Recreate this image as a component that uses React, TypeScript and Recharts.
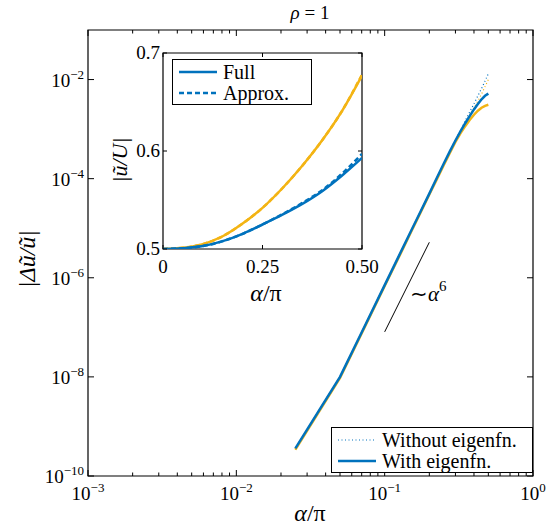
import React from 'react';
import { LineChart, Line, XAxis, YAxis, ReferenceLine, ReferenceArea } from 'recharts';

// main panel: |Δũ/ũ| against α/π (log-log)
const ALPHA = [0.025, 0.05, 0.075, 0.1, 0.125, 0.15, 0.175, 0.2, 0.225, 0.25, 0.275, 0.3, 0.325, 0.35, 0.375, 0.4, 0.425, 0.45, 0.475, 0.5];
const WITH_BLUE = [3.6e-10, 1.0e-8, 1.21e-7, 7.1e-7, 2.8e-6, 8.6e-6, 2.2e-5, 5.0e-5, 1.04e-4, 2.0e-4, 3.55e-4, 5.9e-4, 9.1e-4, 1.33e-3, 1.85e-3, 2.5e-3, 3.2e-3, 4.0e-3, 4.7e-3, 5.2e-3];
const WITH_YELLOW = [3.4e-10, 9.5e-9, 1.15e-7, 6.8e-7, 2.65e-6, 8.2e-6, 2.1e-5, 4.8e-5, 9.8e-5, 1.88e-4, 3.3e-4, 5.5e-4, 8.3e-4, 1.16e-3, 1.54e-3, 1.95e-3, 2.35e-3, 2.7e-3, 2.95e-3, 3.1e-3];
const WITHOUT_BLUE = [3.6e-10, 1.0e-8, 1.21e-7, 7.1e-7, 2.8e-6, 8.6e-6, 2.2e-5, 5.0e-5, 1.04e-4, 2.0e-4, 3.6e-4, 6.1e-4, 9.5e-4, 1.5e-3, 2.24e-3, 3.24e-3, 4.7e-3, 6.6e-3, 9.3e-3, 1.32e-2];
const WITHOUT_YELLOW = [3.4e-10, 9.5e-9, 1.15e-7, 6.8e-7, 2.65e-6, 8.2e-6, 2.1e-5, 4.8e-5, 9.8e-5, 1.88e-4, 3.35e-4, 5.7e-4, 8.7e-4, 1.38e-3, 1.95e-3, 2.7e-3, 3.7e-3, 5.1e-3, 7.2e-3, 1.0e-2];

const X_MAJOR = [0.001, 0.01, 0.1, 1];
const X_MAJOR_LABELS = ['−3', '−2', '−1', '0'];
const X_MINOR = [0.002, 0.003, 0.004, 0.005, 0.006, 0.007, 0.008, 0.009, 0.02, 0.03, 0.04, 0.05, 0.06, 0.07, 0.08, 0.09, 0.2, 0.3, 0.4, 0.5, 0.6, 0.7, 0.8, 0.9];
const Y_MAJOR = [1e-10, 1e-8, 1e-6, 1e-4, 1e-2];
const Y_MAJOR_LABELS = ['−10', '−8', '−6', '−4', '−2'];

// ~α^6 guide
const SLOPE_GUIDE = [{ x: 0.1, y: 8.1e-8 }, { x: 0.2, y: 5.2e-6 }];

// inset: |ũ/U| against α/π
const INSET_ALPHA = [0, 0.05, 0.1, 0.15, 0.2, 0.25, 0.3, 0.35, 0.4, 0.45, 0.5];
const FULL_BLUE = [0.5, 0.5008, 0.503, 0.508, 0.5155, 0.525, 0.535, 0.546, 0.559, 0.575, 0.593];
const FULL_YELLOW = [0.5, 0.5012, 0.505, 0.513, 0.526, 0.542, 0.562, 0.585, 0.611, 0.641, 0.677];
const APPROX_BLUE = [0.5, 0.5008, 0.503, 0.508, 0.5155, 0.525, 0.5355, 0.547, 0.560, 0.577, 0.597];
const APPROX_YELLOW = [0.5, 0.5012, 0.505, 0.513, 0.526, 0.542, 0.562, 0.585, 0.611, 0.641, 0.678];
const INSET_X_TICKS = [0, 0.25, 0.5];
const INSET_X_LABELS = ['0', '0.25', '0.50'];
const INSET_Y_TICKS = [0.5, 0.6, 0.7];
const INSET_Y_LABELS = ['0.5', '0.6', '0.7'];

const BLUE = '#0072BD';
const YELLOW = '#F3B414';
const FONT = '"Liberation Serif", "Times New Roman", serif';

const W = 547;
const H = 529;
// plot box: x 88..533, y 30..476 (axes take 1px)
const MAIN_M = { top: 30, right: 14, bottom: 52, left: 87 };
const PLOT_TOP = 30;
const PLOT_RIGHT = 533;
const INSET_POS = { left: 100, top: 40, width: 280, height: 270 };
// inset box: x 163..362, y 53..249
const INSET_M = { top: 13, right: 18, bottom: 60, left: 62 };
const INSET_TOP = 13;
const INSET_RIGHT = 262;

const mainRows = ALPHA.map((a, i) => ({
  a,
  withB: WITH_BLUE[i],
  withY: WITH_YELLOW[i],
  woB: WITHOUT_BLUE[i],
  woY: WITHOUT_YELLOW[i],
}));

const insetRows = INSET_ALPHA.map((a, i) => ({
  a,
  fullB: FULL_BLUE[i],
  fullY: FULL_YELLOW[i],
  apxB: APPROX_BLUE[i],
  apxY: APPROX_YELLOW[i],
}));

function MainXTick(props: any) {
  const { x, y, payload } = props;
  const idx = X_MAJOR.indexOf(payload.value);
  const len = idx >= 0 ? 6 : 3.5;
  return (
    <g>
      <line x1={x} x2={x} y1={y} y2={y - len} stroke="#000" />
      <line x1={x} x2={x} y1={PLOT_TOP} y2={PLOT_TOP + len} stroke="#000" />
      {idx >= 0 && (
        <text x={x} y={y + 24} textAnchor="middle" fontSize={19} fontFamily={FONT} fill="#000">
          10<tspan dy={-8} fontSize={13}>{X_MAJOR_LABELS[idx]}</tspan>
        </text>
      )}
    </g>
  );
}

function MainYTick(props: any) {
  const { x, y, payload } = props;
  const idx = Y_MAJOR.indexOf(payload.value);
  return (
    <g>
      <line x1={x} x2={x + 6} y1={y} y2={y} stroke="#000" />
      <line x1={PLOT_RIGHT} x2={PLOT_RIGHT - 6} y1={y} y2={y} stroke="#000" />
      <text x={x - 4} y={y + 7} textAnchor="end" fontSize={19} fontFamily={FONT} fill="#000">
        10<tspan dy={-8} fontSize={13}>{Y_MAJOR_LABELS[idx]}</tspan>
      </text>
    </g>
  );
}

function InsetXTick(props: any) {
  const { x, y, payload } = props;
  const idx = INSET_X_TICKS.indexOf(payload.value);
  return (
    <g>
      <line x1={x} x2={x} y1={y} y2={y - 4} stroke="#000" />
      <line x1={x} x2={x} y1={INSET_TOP} y2={INSET_TOP + 4} stroke="#000" />
      <text x={x} y={y + 24} textAnchor="middle" fontSize={19} fontFamily={FONT} fill="#000">
        {INSET_X_LABELS[idx]}
      </text>
    </g>
  );
}

function InsetYTick(props: any) {
  const { x, y, payload } = props;
  const idx = INSET_Y_TICKS.indexOf(payload.value);
  return (
    <g>
      <line x1={x} x2={x + 4} y1={y} y2={y} stroke="#000" />
      <line x1={INSET_RIGHT} x2={INSET_RIGHT - 4} y1={y} y2={y} stroke="#000" />
      <text x={x - 3} y={y + 6} textAnchor="end" fontSize={19} fontFamily={FONT} fill="#000">
        {INSET_Y_LABELS[idx]}
      </text>
    </g>
  );
}

type LegendRow = { label: string; dash?: string; width: number };

function LegendBox({ left, top, width, rows }: { left: number; top: number; width: number; rows: LegendRow[] }) {
  return (
    <div
      style={{
        position: 'absolute',
        left,
        top,
        width,
        border: '1px solid #000',
        background: '#fff',
        padding: '1px 0',
        fontFamily: FONT,
        fontSize: 20,
        boxSizing: 'border-box',
      }}
    >
      {rows.map((r) => (
        <div key={r.label} style={{ display: 'flex', alignItems: 'center', height: 21, lineHeight: '20px' }}>
          <svg width={50} height={21} style={{ flex: 'none' }}>
            <line x1={6} x2={44} y1={11} y2={11} stroke={BLUE} strokeWidth={r.width} strokeDasharray={r.dash} />
          </svg>
          <span style={{ whiteSpace: 'nowrap' }}>{r.label}</span>
        </div>
      ))}
    </div>
  );
}

const axisCommon = {
  type: 'number' as const,
  interval: 0,
  tickSize: 0,
  tickMargin: 0,
  tickLine: false,
  axisLine: false,
  allowDataOverflow: true,
};

export default function App() {
  return (
    <div style={{ position: 'absolute', left: 0, top: 0, width: W, height: H, background: '#fff', fontFamily: FONT }}>
      <LineChart width={W} height={H} data={mainRows} margin={MAIN_M}>
        <XAxis
          {...axisCommon}
          dataKey="a"
          scale="log"
          domain={[0.001, 1]}
          ticks={[...X_MAJOR, ...X_MINOR]}
          height={1}
          tick={(p: any) => <MainXTick {...p} />}
        />
        <YAxis
          {...axisCommon}
          scale="log"
          domain={[1e-10, 0.1]}
          ticks={Y_MAJOR}
          width={1}
          tick={(p: any) => <MainYTick {...p} />}
        />
        <ReferenceArea x1={0.001} x2={1} y1={1e-10} y2={0.1} fill="none" stroke="#000" strokeWidth={1.2} />
        <ReferenceLine segment={SLOPE_GUIDE} stroke="#000" strokeWidth={1} />
        <Line dataKey="woY" stroke={YELLOW} strokeWidth={1.2} strokeDasharray="1 2.5" dot={false} isAnimationActive={false} />
        <Line dataKey="woB" stroke={BLUE} strokeWidth={1.2} strokeDasharray="1 2.5" dot={false} isAnimationActive={false} />
        <Line dataKey="withY" stroke={YELLOW} strokeWidth={2.5} dot={false} isAnimationActive={false} />
        <Line dataKey="withB" stroke={BLUE} strokeWidth={2.5} dot={false} isAnimationActive={false} />
      </LineChart>

      <div style={{ position: 'absolute', left: INSET_POS.left, top: INSET_POS.top }}>
        <LineChart width={INSET_POS.width} height={INSET_POS.height} data={insetRows} margin={INSET_M}>
          <XAxis
            {...axisCommon}
            dataKey="a"
            domain={[0, 0.5]}
            ticks={INSET_X_TICKS}
            height={1}
            tick={(p: any) => <InsetXTick {...p} />}
          />
          <YAxis
            {...axisCommon}
            domain={[0.5, 0.7]}
            ticks={INSET_Y_TICKS}
            width={1}
            tick={(p: any) => <InsetYTick {...p} />}
          />
          <ReferenceArea x1={0} x2={0.5} y1={0.5} y2={0.7} fill="#fff" fillOpacity={1} stroke="#000" strokeWidth={1.2} />
          <Line dataKey="fullY" type="monotone" stroke={YELLOW} strokeWidth={2.5} dot={false} isAnimationActive={false} />
          <Line dataKey="apxY" type="monotone" stroke={YELLOW} strokeWidth={2.5} strokeDasharray="5 3" dot={false} isAnimationActive={false} />
          <Line dataKey="fullB" type="monotone" stroke={BLUE} strokeWidth={2.5} dot={false} isAnimationActive={false} />
          <Line dataKey="apxB" type="monotone" stroke={BLUE} strokeWidth={2.5} strokeDasharray="5 3" dot={false} isAnimationActive={false} />
        </LineChart>
      </div>

      <LegendBox
        left={172}
        top={59}
        width={140}
        rows={[
          { label: 'Full', width: 2.5 },
          { label: 'Approx.', width: 2.5, dash: '5 3' },
        ]}
      />
      <LegendBox
        left={331}
        top={427}
        width={202}
        rows={[
          { label: 'Without eigenfn.', width: 1.2, dash: '1 2.5' },
          { label: 'With eigenfn.', width: 2.5 },
        ]}
      />

      {/* titles and axis labels */}
      <div style={{ position: 'absolute', left: 260, width: 100, top: 2, textAlign: 'center', fontSize: 19 }}>
        <i>ρ</i> = 1
      </div>
      <div style={{ position: 'absolute', left: 260, width: 100, top: 500, textAlign: 'center', fontSize: 24 }}>
        <i>α</i>/π
      </div>
      <div
        style={{
          position: 'absolute',
          left: 27 - 50,
          top: 259 - 14,
          width: 100,
          textAlign: 'center',
          fontSize: 24,
          fontStyle: 'italic',
          transform: 'rotate(-90deg)',
          lineHeight: '28px',
          whiteSpace: 'nowrap',
        }}
      >
        |Δũ/ũ|
      </div>
      <div
        style={{
          position: 'absolute',
          left: 120 - 50,
          top: 160 - 13,
          width: 100,
          textAlign: 'center',
          fontSize: 22,
          fontStyle: 'italic',
          transform: 'rotate(-90deg)',
          lineHeight: '26px',
          whiteSpace: 'nowrap',
        }}
      >
        |ũ/U|
      </div>
      <div style={{ position: 'absolute', left: 216, width: 100, top: 280, textAlign: 'center', fontSize: 24 }}>
        <i>α</i>/π
      </div>
      <div style={{ position: 'absolute', left: 410, top: 282, fontSize: 21, whiteSpace: 'nowrap' }}>
        ∼<i>α</i>
        <sup style={{ fontSize: 15, verticalAlign: 'top', position: 'relative', top: -4 }}>6</sup>
      </div>
    </div>
  );
}
